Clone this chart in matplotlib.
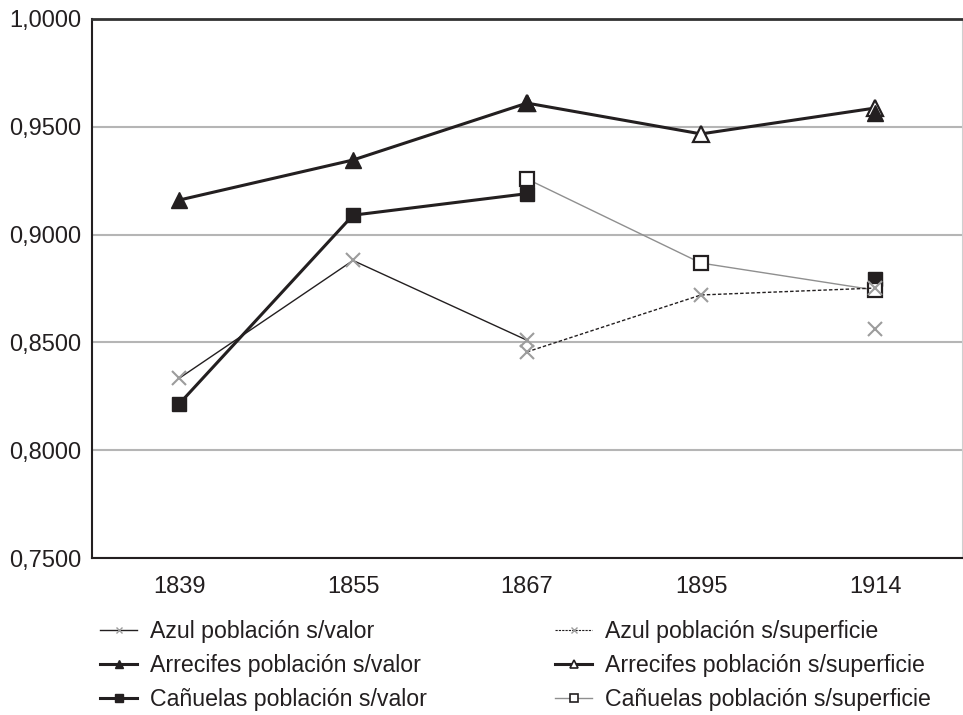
import numpy as np
import matplotlib.pyplot as plt
from matplotlib.lines import Line2D
from matplotlib.ticker import FuncFormatter

plt.rcParams['font.family'] = ['Liberation Sans', 'DejaVu Sans']

# Datos
anios = ['1839', '1855', '1867', '1895', '1914']
azul_valor = [0.8333, 0.8880, 0.8510, np.nan, 0.8562]
azul_sup = [np.nan, np.nan, 0.8456, 0.8720, 0.8752]
arrecifes_valor = [0.9160, 0.9346, 0.9610, np.nan, 0.9564]
arrecifes_sup = [np.nan, np.nan, 0.9610, 0.9467, 0.9587]
canuelas_valor = [0.8214, 0.9090, 0.9190, np.nan, 0.8794]
canuelas_sup = [np.nan, np.nan, 0.9258, 0.8868, 0.8743]

negro = '#231f20'
gris_x = '#9c9c9c'
gris_linea = '#8f8f8f'

fig = plt.figure(figsize=(9.63, 7.15), dpi=100)
ax = fig.add_axes([92 / 963, 157 / 715, 870 / 963, 539 / 715])

x = np.arange(len(anios))

ax.plot(x, azul_valor, color=negro, lw=1.0, marker='x', ms=10, mew=1.5,
        mec=gris_x, zorder=3)
ax.plot(x, arrecifes_sup, color=negro, lw=2.2, marker='^', ms=11, mew=1.6,
        mec=negro, mfc='white', zorder=4)
ax.plot(x, arrecifes_valor, color=negro, lw=2.2, marker='^', ms=11,
        mec=negro, mfc=negro, zorder=5)
ax.plot(x, canuelas_valor, color=negro, lw=2.2, marker='s', ms=10,
        mec=negro, mfc=negro, zorder=5)
ax.plot(x, canuelas_sup, color=gris_linea, lw=1.0, marker='s', ms=10, mew=1.6,
        mec=negro, mfc='white', zorder=6)
ax.plot(x, azul_sup, color=negro, lw=1.0, ls=(0, (2.5, 1.5)), marker='x', ms=10,
        mew=1.5, mec=gris_x, zorder=7)

ax.set_xlim(-0.5, len(anios) - 0.5)
ax.set_ylim(0.75, 1.0)
ax.set_xticks(x)
ax.set_xticklabels(anios)
ax.set_yticks([0.75, 0.80, 0.85, 0.90, 0.95, 1.0])
ax.yaxis.set_major_formatter(FuncFormatter(lambda v, p: f'{v:.4f}'.replace('.', ',')))
ax.tick_params(axis='both', length=0, labelsize=17, colors=negro)
ax.tick_params(axis='y', pad=8)
ax.tick_params(axis='x', pad=13)
ax.yaxis.grid(True, color='#b5b5b5', lw=1.5)
ax.set_axisbelow(True)

for lado in ['left', 'bottom']:
    ax.spines[lado].set_color(negro)
    ax.spines[lado].set_linewidth(1.5)
ax.spines['top'].set_color('#333333')
ax.spines['top'].set_linewidth(2.0)
ax.spines['right'].set_color('#cfcfcf')
ax.spines['right'].set_linewidth(0.8)

# leyenda en dos columnas
h_izq = [
    Line2D([], [], color=negro, lw=1.0, marker='x', ms=5, mew=1.0, mec=gris_x),
    Line2D([], [], color=negro, lw=2.2, marker='^', ms=6, mec=negro, mfc=negro),
    Line2D([], [], color=negro, lw=2.2, marker='s', ms=6, mec=negro, mfc=negro),
]
t_izq = ['Azul población s/valor', 'Arrecifes población s/valor',
         'Cañuelas población s/valor']
h_der = [
    Line2D([], [], color=negro, lw=0.8, ls=(0, (2, 1)), marker='x', ms=5, mew=1.0, mec=gris_x),
    Line2D([], [], color=negro, lw=2.2, marker='^', ms=6, mew=1.2, mec=negro, mfc='white'),
    Line2D([], [], color=gris_linea, lw=1.0, marker='s', ms=6, mew=1.2, mec=negro, mfc='white'),
]
t_der = ['Azul población s/superficie', 'Arrecifes población s/superficie',
         'Cañuelas población s/superficie']

for h, t, x0 in [(h_izq, t_izq, 100), (h_der, t_der, 555)]:
    fig.legend(h, t, loc='upper left', bbox_to_anchor=(x0 / 963, 95 / 715),
               frameon=False, fontsize=16.7, borderpad=0, borderaxespad=0,
               handlelength=1.6, handletextpad=0.55, labelspacing=0.48,
               labelcolor=negro)

fig.savefig('out.png', dpi=100)
